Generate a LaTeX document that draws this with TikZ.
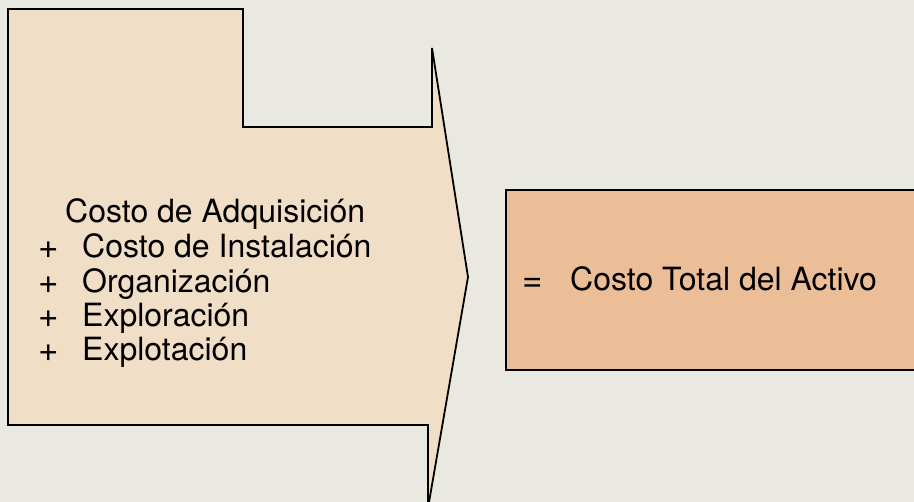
\documentclass[tikz,border=0pt]{standalone}
\usepackage{fontspec}
\setmainfont{TeX Gyre Heros}
\definecolor{paper}{RGB}{233,233,226}
\definecolor{beige}{RGB}{240,222,198}
\definecolor{salmon}{RGB}{236,190,152}
\tikzset{
  outline/.style={draw=black, line width=1.8pt, line join=miter},
  txt/.style={anchor=base west, inner sep=0pt, font=\fontsize{32}{34}\selectfont},
  sym/.style={anchor=base west, inner sep=0pt, font=\fontsize{35}{34}\selectfont},
}
\begin{document}
\begin{tikzpicture}[x=1pt,y=-1pt]
\useasboundingbox (0,0) rectangle (914,502);
\fill[paper] (0,0) rectangle (914,502);
\begin{scope}
\clip (0,0) rectangle (914,502);
% arrow shape
\path[outline, fill=beige] (8,9) -- (243,9) -- (243,127) -- (432,127) -- (432,48)
  -- (468,277) -- (428,508) -- (428,425) -- (8,425) -- cycle;
% result box
\path[outline, fill=salmon] (506,190) rectangle (925,370);
\end{scope}
\node[txt] (l1) at (65,223) {Costo de Adquisición};
\node[sym] (p2) at (38,259) {+};
\node[txt] (l2) at (82,258) {Costo de Instalación};
\node[sym] (p3) at (38,294) {+};
\node[txt] (l3) at (82,293) {Organización};
\node[sym] (p4) at (38,328) {+};
\node[txt] (l4) at (82,327) {Exploración};
\node[sym] (p5) at (38,362) {+};
\node[txt] (l5) at (82,361) {Explotación};
\node[sym] (eq) at (522,292) {=};
\node[txt] (res) at (570,291) {Costo Total del Activo};
\end{tikzpicture}
\end{document}
